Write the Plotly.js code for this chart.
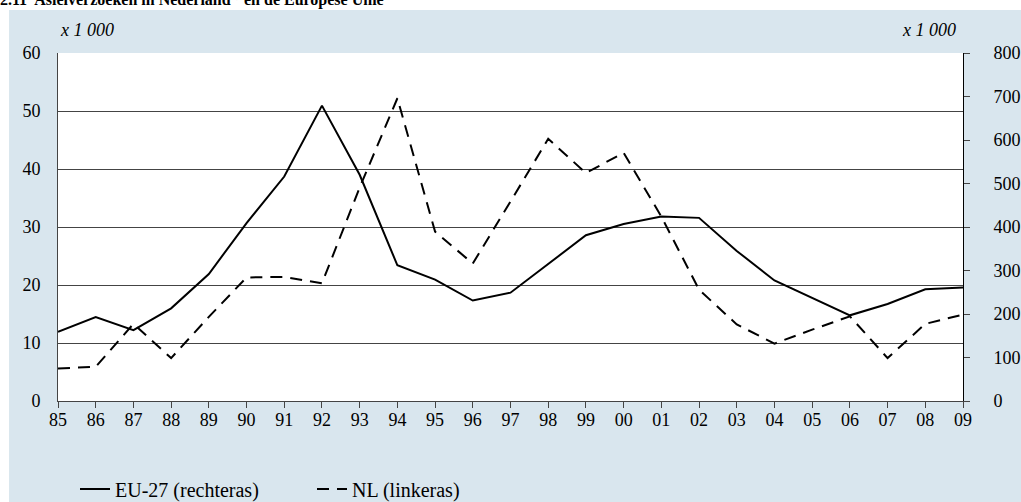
<!DOCTYPE html>
<html>
<head>
<meta charset="utf-8">
<script src="https://cdn.plot.ly/plotly-3.0.1.min.js"></script>
<style>
  body { margin: 0; background: #ffffff; }
  #plot { width: 1021px; height: 502px; }
</style>
</head>
<body>
<div id="plot"></div>
<script>
// Years on the x axis
let years = ['85', '86', '87', '88', '89', '90', '91', '92', '93', '94', '95', '96',
             '97', '98', '99', '00', '01', '02', '03', '04', '05', '06', '07', '08', '09'];

// EU-27 asylum requests (x 1 000), right axis
let euValues = [159, 193, 163, 213, 292, 409, 516, 679, 520, 312, 279, 231,
                249, 315, 381, 407, 424, 421, 345, 277, 237, 197, 223, 257, 261];

// Netherlands asylum requests (x 1 000), left axis
let nlValues = [5.6, 5.9, 13.3, 7.4, 14.5, 21.3, 21.4, 20.3, 36.8, 52.2, 29.2, 23.7,
                34.4, 45.2, 39.3, 42.8, 31.8, 19.2, 13.2, 9.9, 12.3, 14.6, 7.4, 13.3, 14.9];

let leftTicks = [0, 10, 20, 30, 40, 50, 60];
let rightTicks = [0, 100, 200, 300, 400, 500, 600, 700, 800];

let serif = 'Liberation Serif, Times New Roman, serif';
let panelBlue = '#d9e6ee';

let traceEU = {
    x: years,
    y: euValues,
    name: 'EU-27 (rechteras)',
    yaxis: 'y2',
    mode: 'lines',
    type: 'scatter',
    line: {color: '#000000', width: 2}
};

let traceNL = {
    x: years,
    y: nlValues,
    name: 'NL (linkeras)',
    yaxis: 'y',
    mode: 'lines',
    type: 'scatter',
    line: {color: '#000000', width: 2, dash: '12px,8px'}
};

let layout = {
    width: 1021,
    height: 502,
    margin: {l: 58, r: 58, t: 53, b: 101},
    paper_bgcolor: '#ffffff',
    plot_bgcolor: 'rgba(0,0,0,0)',
    font: {family: serif, size: 18, color: '#000000'},
    showlegend: true,
    legend: {
        orientation: 'h',
        xref: 'container',
        yref: 'container',
        x: 75 / 1021,
        xanchor: 'left',
        y: 1 - 489 / 502,
        yanchor: 'middle',
        bgcolor: 'rgba(0,0,0,0)',
        font: {family: serif, size: 20, color: '#000000'},
        entrywidth: 192,
        entrywidthmode: 'pixels',
        traceorder: 'normal'
    },
    xaxis: {
        type: 'category',
        range: [0, years.length - 1],
        showline: true,
        linecolor: '#444444',
        linewidth: 1,
        ticks: 'outside',
        ticklen: 6,
        tickcolor: '#444444',
        ticklabelstandoff: -4,
        showgrid: false,
        zeroline: false,
        tickfont: {family: serif, size: 18},
        fixedrange: true
    },
    yaxis: {
        range: [0, 60],
        tickvals: leftTicks,
        showline: true,
        linecolor: '#444444',
        linewidth: 1,
        showgrid: true,
        gridcolor: '#444444',
        gridwidth: 1,
        zeroline: false,
        ticks: '',
        ticklabelstandoff: 13,
        tickfont: {family: serif, size: 18},
        fixedrange: true
    },
    yaxis2: {
        range: [0, 800],
        tickvals: rightTicks,
        overlaying: 'y',
        side: 'right',
        showline: true,
        linecolor: '#000000',
        linewidth: 1,
        showgrid: false,
        zeroline: false,
        ticks: 'outside',
        ticklen: 6,
        tickcolor: '#444444',
        ticklabelstandoff: 20,
        tickfont: {family: serif, size: 18},
        fixedrange: true
    },
    shapes: [
        // light blue panel behind everything
        {type: 'rect', xref: 'paper', yref: 'paper', layer: 'below',
         x0: -0.0541, x1: 1.2, y0: -0.5, y1: 1.1236,
         fillcolor: panelBlue, line: {width: 0}},
        // white plotting area
        {type: 'rect', xref: 'paper', yref: 'paper', layer: 'below',
         x0: 0, x1: 1, y0: 0, y1: 1,
         fillcolor: '#ffffff', line: {width: 0}}
    ],
    annotations: [
        {text: '<b>2.11  Asielverzoeken in Nederland<sup>1)</sup> en de Europese Unie</b>',
         xref: 'paper', yref: 'paper', x: -0.066, y: 1.122,
         xanchor: 'left', yanchor: 'bottom', showarrow: false,
         font: {family: serif, size: 16}},
        {text: '<i>x 1 000</i>', xref: 'paper', yref: 'paper', x: 0.0, y: 1.033,
         xanchor: 'left', yanchor: 'bottom', showarrow: false,
         font: {family: serif, size: 18}},
        {text: '<i>x 1 000</i>', xref: 'paper', yref: 'paper', x: 0.9945, y: 1.033,
         xanchor: 'right', yanchor: 'bottom', showarrow: false,
         font: {family: serif, size: 18}}
    ]
};

let config = {staticPlot: true, displayModeBar: false};

Plotly.newPlot('plot', [traceEU, traceNL], layout, config);
</script>
</body>
</html>
